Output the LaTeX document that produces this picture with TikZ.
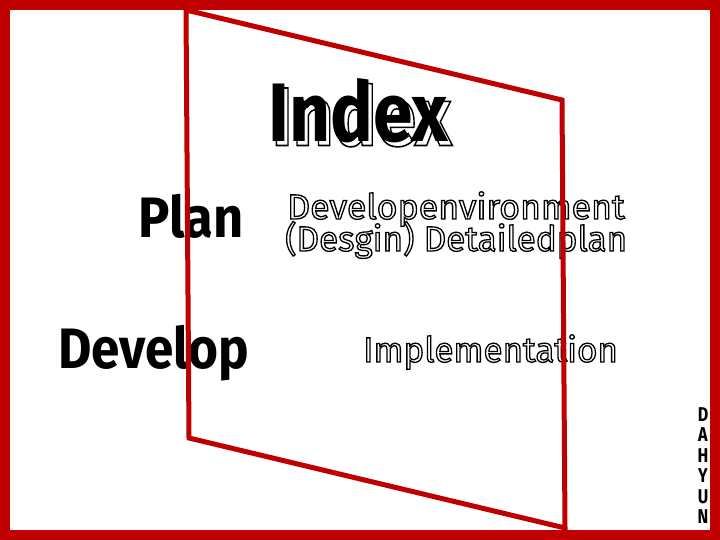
\documentclass[tikz,border=0pt]{standalone}
\usepackage{fontspec}
\setmainfont{Fira Sans}
\definecolor{framered}{HTML}{C00000}
\tikzset{
  filledtxt/.style={inner sep=0pt, anchor=base west, text=black},
  outlinetxt/.style={inner sep=0pt, anchor=base west, align=left},
  sidetxt/.style={inner sep=0pt, anchor=base, font=\bfseries\fontsize{19}{19}\selectfont},
}
\newcommand{\outl}[2]{{\color{white}\special{pdf:literal direct 2 Tr #1 w 0 G}#2\special{pdf:literal direct 0 Tr}}}
\begin{document}
\begin{tikzpicture}[x=1pt,y=-1pt]
\useasboundingbox (0,0) rectangle (720,540);
\fill[framered] (0,0) rectangle (720,540);
\fill[white] (10,10) rectangle (710,530);
% Index
\node[outlinetxt, font=\bfseries\fontsize{83}{83}\selectfont] (indexout) at (271.5,145.5) {\scalebox{0.86}[1]{\outl{1.6}{Index}}};
\node[filledtxt, font=\bfseries\fontsize{83}{83}\selectfont] (index) at (268,142) {\scalebox{0.86}[1]{Index}};
% left labels
\node[filledtxt, font=\bfseries\fontsize{57}{57}\selectfont] (plan) at (138,237) {\scalebox{0.92}[1]{Plan}};
\node[filledtxt, font=\bfseries\fontsize{57}{57}\selectfont] (develop) at (58,368) {\scalebox{0.9}[1]{Develop}};
% right outlined labels
\node[outlinetxt, font=\fontsize{35}{32}\selectfont] (env) at (287,219) {\scalebox{1.02}[1]{\outl{1.3}{Developenvironment}}};
\node[outlinetxt, font=\fontsize{35}{32}\selectfont] (plan2) at (285,251) {\outl{1.3}{(Desgin) Detailedplan}};
\node[outlinetxt, font=\fontsize{35}{32}\selectfont] (impl) at (363,362) {\outl{1.3}{Implementation}};
% side letters
\foreach \l [count=\i] in {D,A,H,Y,U,N} {
  \node[sidetxt] (side\i) at (703,401+20.4*\i) {\scalebox{0.85}[1.05]{\l}};
}
% quadrilateral
\coordinate (q1) at (186,10);
\coordinate (q2) at (562,100);
\coordinate (q3) at (565,528);
\coordinate (q4) at (189,438);
\draw[framered, line width=5pt, line join=miter] (q1) -- (q2) -- (q3) -- (q4) -- cycle;
\end{tikzpicture}
\end{document}
